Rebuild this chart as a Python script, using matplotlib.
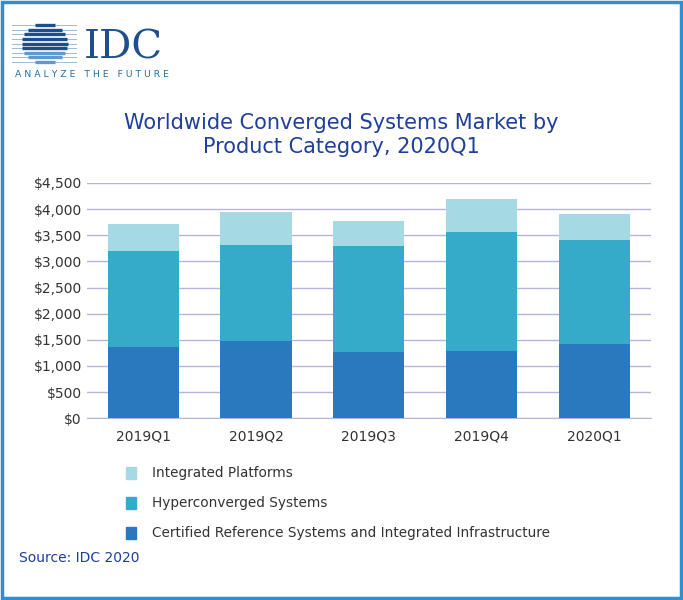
import numpy as np
import matplotlib.pyplot as plt
from matplotlib.patches import Rectangle

quarters = ["2019Q1", "2019Q2", "2019Q3", "2019Q4", "2020Q1"]
certified = [1358, 1474, 1261, 1280, 1416]
hyper = [1842, 1842, 2036, 2289, 1997]
integrated = [524, 621, 485, 620, 485]

c_cert = "#2a78be"
c_hyper = "#36abc9"
c_int = "#a5d9e4"

fig = plt.figure(figsize=(6.83, 6.0), dpi=100)
fig.patches.append(Rectangle((0.003, 0.003), 0.994, 0.994, transform=fig.transFigure,
                             fill=False, edgecolor="#2f8fd0", linewidth=2.5))

# logo: striped globe
lax = fig.add_axes([0.018, 0.89, 0.095, 0.075])
lax.set_xlim(-1.7, 1.7)
lax.set_ylim(-1.1, 1.1)
lax.axis("off")
for k, y in enumerate(np.linspace(0.9, -0.9, 9)):
    w = np.sqrt(max(1 - y ** 2, 0)) * 1.2
    lax.plot([-1.7, 1.7], [y, y], color="#8fb0cf", lw=0.6)
    col = "#1a4f8c" if k < 6 else "#5d9ad3"
    lax.plot([-w, w], [y, y], color=col, lw=2.4, solid_capstyle="butt")
fig.text(0.122, 0.902, "IDC", fontsize=29, color="#1d4f8c", family="DejaVu Serif")
fig.text(0.022, 0.871, "A N A L Y Z E   T H E   F U T U R E", fontsize=6.7, color="#1d6fa8")

fig.text(0.5, 0.775, "Worldwide Converged Systems Market by\nProduct Category, 2020Q1",
         ha="center", va="center", fontsize=15, color="#1f3f99", linespacing=1.3)

ax = fig.add_axes([0.127, 0.303, 0.826, 0.392])
x = np.arange(len(quarters))
ax.bar(x, certified, width=0.63, color=c_cert, zorder=3)
ax.bar(x, hyper, width=0.63, bottom=certified, color=c_hyper, zorder=3)
ax.bar(x, integrated, width=0.63, bottom=np.add(certified, hyper), color=c_int, zorder=3)
ax.set_ylim(0, 4500)
ax.set_xlim(-0.5, 4.5)
ax.set_yticks(range(0, 4501, 500))
ax.set_yticklabels(["$0"] + [f"${v:,}" for v in range(500, 4501, 500)])
ax.set_xticks(x)
ax.set_xticklabels(quarters)
ax.grid(axis="y", color="#b8b4e0", lw=1, zorder=0)
for s in ["top", "right", "left"]:
    ax.spines[s].set_visible(False)
ax.spines["bottom"].set_color("#b8b4e0")
ax.tick_params(length=0, labelsize=10, colors="#333333")
ax.tick_params(axis="x", pad=8)

items = [("Integrated Platforms", c_int, 0.212),
         ("Hyperconverged Systems", c_hyper, 0.162),
         ("Certified Reference Systems and Integrated Infrastructure", c_cert, 0.112)]
for label, col, y in items:
    fig.patches.append(Rectangle((0.185, y - 0.01), 0.014, 0.02, transform=fig.transFigure,
                                 color=col))
    fig.text(0.222, y, label, fontsize=9.8, color="#333333", va="center")
fig.text(0.028, 0.07, "Source: IDC 2020", fontsize=10, color="#1f3f99", va="center")

fig.savefig("out.png", dpi=100)
